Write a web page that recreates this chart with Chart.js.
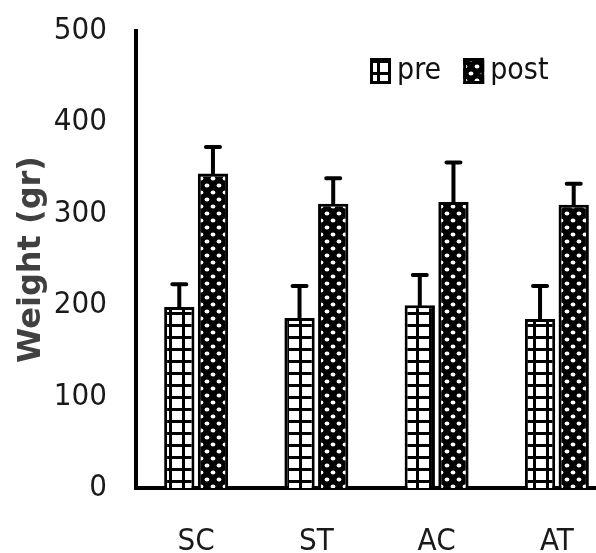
<!DOCTYPE html>
<html>
<head>
<meta charset="utf-8">
<script src="https://cdn.jsdelivr.net/npm/chart.js@4.4.1/dist/chart.umd.min.js"></script>
<style>
  html, body { margin: 0; padding: 0; background: #fff; overflow: hidden; }
  #wrap { width: 596px; height: 553px; overflow: hidden; }
</style>
</head>
<body>
<div id="wrap"><canvas id="weightChart" width="620" height="553"></canvas></div>
<script>
// groups and values
const groups = ["SC", "ST", "AC", "AT"];
const preWeight = [198, 186, 200, 185];
const preErr = [25, 35, 33, 36];
const postWeight = [344, 311, 313, 310];
const postErr = [29, 28, 43, 23];
const yTicks = [0, 100, 200, 300, 400, 500];

const tickFont = "'Liberation Sans Narrow', 'DejaVu Sans Condensed', sans-serif";

// white grid on black lines (pre)
function gridPattern() {
    let c = document.createElement('canvas');
    c.width = 13; c.height = 12;
    let g = c.getContext('2d');
    g.fillStyle = '#fff';
    g.fillRect(0, 0, 13, 12);
    g.fillStyle = '#000';
    g.fillRect(0, 0, 13, 3);
    g.fillRect(0, 0, 3, 12);
    return g.createPattern(c, 'repeat');
}

// white dots on black (post)
function dotPattern() {
    let c = document.createElement('canvas');
    c.width = 12; c.height = 14;
    let g = c.getContext('2d');
    g.fillStyle = '#000';
    g.fillRect(0, 0, 12, 14);
    g.fillStyle = '#fff';
    [[3, 3.5], [9, 10.5]].forEach(([x, y]) => {
        g.beginPath();
        g.ellipse(x, y, 2.4, 1.9, 0, 0, Math.PI * 2);
        g.fill();
    });
    return g.createPattern(c, 'repeat');
}

const errorBars = {
    id: 'errorBars',
    afterDatasetsDraw(chart) {
        const ctx = chart.ctx;
        const yScale = chart.scales.y;
        ctx.save();
        ctx.strokeStyle = '#000';
        ctx.lineWidth = 4;
        ctx.lineCap = 'round';
        chart.data.datasets.forEach((ds, i) => {
            const meta = chart.getDatasetMeta(i);
            meta.data.forEach((bar, j) => {
                const top = yScale.getPixelForValue(ds.data[j] + ds.errors[j]);
                ctx.beginPath();
                ctx.moveTo(bar.x, bar.y);
                ctx.lineTo(bar.x, top);
                ctx.moveTo(bar.x - 7, top);
                ctx.lineTo(bar.x + 7, top);
                ctx.stroke();
            });
        });
        ctx.restore();
    }
};

// legend drawn inside the plot, top right
const innerLegend = {
    id: 'innerLegend',
    afterDraw(chart) {
        const ctx = chart.ctx;
        const area = chart.chartArea;
        let x = 370;
        const y = area.top + 40;
        ctx.save();
        ctx.font = "30px " + tickFont;
        ctx.textBaseline = 'middle';
        chart.data.datasets.forEach(ds => {
            ctx.fillStyle = ds.backgroundColor;
            ctx.fillRect(x, y - 13, 21, 26);
            ctx.strokeStyle = '#000';
            ctx.lineWidth = 3;
            ctx.strokeRect(x + 1.5, y - 11.5, 18, 23);
            ctx.fillStyle = '#111';
            ctx.fillText(ds.label, x + 27, y);
            x += 27 + ctx.measureText(ds.label).width + 22;
        });
        ctx.restore();
    }
};

new Chart(document.getElementById('weightChart'), {
    type: 'bar',
    data: {
        labels: groups,
        datasets: [
            { label: "pre", data: preWeight, errors: preErr, backgroundColor: gridPattern(),
              borderColor: '#000', borderWidth: 3 },
            { label: "post", data: postWeight, errors: postErr, backgroundColor: dotPattern(),
              borderColor: '#000', borderWidth: 3 }
        ]
    },
    options: {
        responsive: false,
        animation: false,
        devicePixelRatio: 1,
        layout: { padding: { top: 0, left: 0, right: 3, bottom: 0 } },
        datasets: { bar: { categoryPercentage: 0.56, barPercentage: 0.9 } },
        plugins: { legend: { display: false }, tooltip: { enabled: false } },
        scales: {
            x: {
                grid: { display: false },
                border: { display: true, color: '#000', width: 4 },
                ticks: { color: '#1a1a1a', font: { family: tickFont, size: 31, lineHeight: 1.2 }, padding: 27 },
                // fixed height so the axis sits where the figure has it
                afterFit: scale => { scale.height = 65; }
            },
            y: {
                min: 0, max: 500,
                afterBuildTicks: axis => { axis.ticks = yTicks.map(v => ({ value: v })); },
                grid: { display: false },
                border: { display: true, color: '#000', width: 4 },
                ticks: { color: '#1a1a1a', font: { family: tickFont, size: 31 }, padding: 21 },
                title: {
                    display: true, text: 'Weight (gr)', color: '#404040',
                    font: { family: "'DejaVu Sans', sans-serif", size: 32, weight: 'bold' },
                    padding: { top: 12, bottom: 0 }
                },
                afterFit: scale => {
                    scale.width = 136;
                    scale.paddingTop = 31;
                    scale.paddingBottom = 0;
                }
            }
        }
    },
    plugins: [errorBars, innerLegend]
});
</script>
</body>
</html>
